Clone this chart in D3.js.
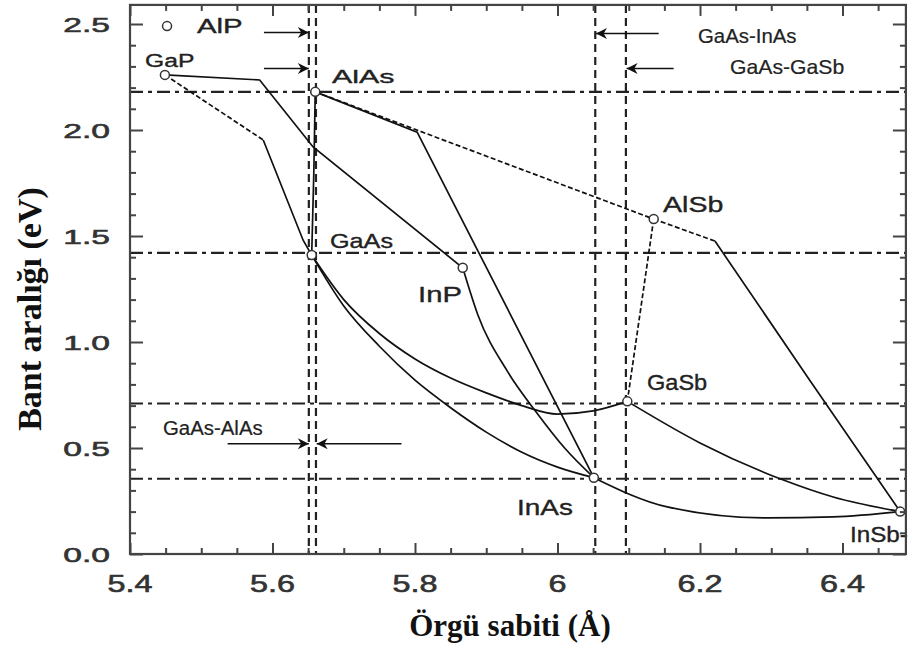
<!DOCTYPE html>
<html><head><meta charset="utf-8">
<script src="https://cdn.jsdelivr.net/npm/d3@7"></script>
<style>
html,body{margin:0;padding:0;background:#fff;}
svg{display:block;}
</style></head>
<body>
<svg id="chart" width="909" height="650"></svg>
<script>
// ---------- data ----------
const xMajorTicks = [5.4, 5.6, 5.8, 6.0, 6.2, 6.4];
const xTickLabels = ["5.4", "5.6", "5.8", "6", "6.2", "6.4"];
const yMajorTicks = [0, 0.5, 1.0, 1.5, 2.0, 2.5];
const yTickLabels = ["0.0", "0.5", "1.0", "1.5", "2.0", "2.5"];

const compoundNames = ["AlP", "GaP", "AlAs", "GaAs", "InP", "AlSb", "GaSb", "InAs", "InSb"];
const compoundA     = [5.452, 5.449, 5.660, 5.655, 5.867, 6.135, 6.098, 6.051, 6.481];
const compoundEg    = [2.49, 2.26, 2.18, 1.41, 1.35, 1.58, 0.72, 0.36, 0.20];

// polylines (straight segments): [lattice constant, band gap]
const curveGaPInP   = [[5.449,2.26],[5.582,2.236],[5.657,1.92],[5.867,1.35]];
const curveGaPGaAsInd = [[5.449,2.26],[5.587,1.953]];
const curveGaPGaAs  = [[5.587,1.953],[5.643,1.48],[5.655,1.41]];
const curveAlAsGaAs = [[5.660,2.18],[5.658,1.80],[5.655,1.41]];
const curveAlAsInAs = [[5.660,2.18],[5.803,1.99],[6.051,0.36]];
const curveAlAsAlSb = [[5.660,2.18],[6.135,1.58]];
const curveAlSbInSbInd = [[6.135,1.58],[6.221,1.476]];
const curveAlSbInSb = [[6.221,1.476],[6.354,0.82],[6.481,0.20]];
const curveAlSbGaSb = [[6.135,1.58],[6.098,0.72]];
// smooth bowed curves
const curveGaAsGaSb = [[5.655,1.41],[5.70,1.20],[5.75,1.04],[5.80,0.92],[5.85,0.83],[5.90,0.76],[5.95,0.70],[6.00,0.66],[6.05,0.675],[6.098,0.72]];
const curveGaAsInAs = [[5.655,1.41],[5.70,1.17],[5.75,0.98],[5.80,0.82],[5.85,0.69],[5.90,0.575],[5.95,0.48],[6.00,0.41],[6.051,0.36]];
const curveInPInAs  = [[5.867,1.35],[5.888,1.13],[5.93,0.86],[5.97,0.67],[6.01,0.50],[6.051,0.36]];
const curveInAsInSb = [[6.051,0.36],[6.154,0.222],[6.294,0.17],[6.387,0.175],[6.481,0.20]];
const curveGaSbInSb = [[6.098,0.72],[6.20,0.524],[6.317,0.349],[6.387,0.269],[6.481,0.20]];

const hLines = [2.18, 1.42, 0.71, 0.355];          // dash-dot reference gaps
const vLines = [5.651, 5.661, 6.053, 6.096];       // dashed reference lattice constants

// annotations: label, arrow start/end in data coords
const arrowLabels = ["GaAs-InAs", "GaAs-GaSb", "GaAs-AlAs"];
const arrowFrom = [[5.588,2.46],[5.588,2.29],[6.142,2.455],[6.163,2.29],[5.537,0.52],[5.781,0.52]];
const arrowTo   = [[5.651,2.46],[5.651,2.29],[6.054,2.455],[6.097,2.29],[5.651,0.52],[5.662,0.52]];

// ---------- scales ----------
const svg = d3.select("#chart");
const x = d3.scaleLinear().domain([5.4, 6.4]).range([130, 842.5]);
const y = d3.scaleLinear().domain([0, 2.5]).range([554, 24]);
const xMax = 6.489, yMax = 2.59;
const X0 = x(5.4), X1 = x(xMax), Y0 = y(0), Y1 = y(yMax);

// ---------- reference lines ----------
const ref = svg.append("g");
hLines.forEach(v => {
  ref.append("line").attr("x1", X0).attr("x2", X1).attr("y1", y(v)).attr("y2", y(v))
    .attr("stroke", "#222").attr("stroke-width", 2.2).attr("stroke-dasharray", "13,5,4,5");
});
vLines.forEach(v => {
  ref.append("line").attr("x1", x(v)).attr("x2", x(v)).attr("y1", Y1).attr("y2", Y0)
    .attr("stroke", "#222").attr("stroke-width", 2.2).attr("stroke-dasharray", "8,5");
});

// ---------- curves ----------
const lineStraight = d3.line().x(d => x(d[0])).y(d => y(d[1]));
const lineSmooth = d3.line().x(d => x(d[0])).y(d => y(d[1])).curve(d3.curveMonotoneX);
const g = svg.append("g").attr("fill", "none").attr("stroke", "#111").attr("stroke-width", 1.7);
[curveGaPInP, curveGaPGaAs, curveAlAsGaAs, curveAlAsInAs, curveAlSbInSb]
  .forEach(c => g.append("path").attr("d", lineStraight(c)));
[curveGaAsGaSb, curveGaAsInAs, curveInPInAs, curveInAsInSb, curveGaSbInSb]
  .forEach(c => g.append("path").attr("d", lineSmooth(c)));
[curveGaPGaAsInd, curveAlAsAlSb, curveAlSbInSbInd, curveAlSbGaSb]
  .forEach(c => g.append("path").attr("d", lineStraight(c)).attr("stroke-dasharray", "5,2.5"));

// ---------- markers ----------
svg.append("g").selectAll("circle").data(compoundNames).join("circle")
  .attr("cx", (d, i) => x(compoundA[i])).attr("cy", (d, i) => y(compoundEg[i]))
  .attr("r", 4.5).attr("fill", "#fff").attr("stroke", "#333").attr("stroke-width", 1.5);

// ---------- text helper ----------
const labelFont = "Liberation Sans, Arial, sans-serif";
function wideText(parent, t, px, py, size, sx, anchor) {
  return parent.append("text").attr("transform", `translate(${px},${py}) scale(${sx},1)`)
    .attr("text-anchor", anchor || "start").attr("font-family", labelFont).attr("font-size", size)
    .attr("fill", "#222").attr("stroke", "#222").attr("stroke-width", 0.35).text(t);
}

// ---------- compound labels ----------
const compoundLabelPos = {
  "AlP":  [197, 33, 21, 1.4],
  "GaP":  [145, 67, 19, 1.3],
  "AlAs": [332, 83, 19, 1.6],
  "GaAs": [330, 248, 20, 1.26],
  "InP":  [418, 302, 22, 1.33],
  "AlSb": [663, 212, 22, 1.3],
  "GaSb": [647, 390, 22, 1.07],
  "InAs": [517, 515, 22, 1.27],
  "InSb": [850, 542, 22, 1.1]
};
const labelTexts = {"InSb": "InSb-"};
compoundNames.forEach(n => {
  const p = compoundLabelPos[n];
  wideText(svg, labelTexts[n] || n, p[0], p[1], p[2], p[3]);
});

// ---------- arrows ----------
const defs = svg.append("defs");
defs.append("marker").attr("id", "ah").attr("viewBox", "0 0 10 10").attr("refX", 10).attr("refY", 5)
  .attr("markerWidth", 13).attr("markerHeight", 11).attr("markerUnits", "userSpaceOnUse").attr("orient", "auto")
  .append("path").attr("d", "M0,0 L10,5 L0,10 L3,5 Z").attr("fill", "#111");
arrowFrom.forEach((f, i) => {
  svg.append("line").attr("x1", x(f[0])).attr("y1", y(f[1]))
    .attr("x2", x(arrowTo[i][0])).attr("y2", y(arrowTo[i][1]))
    .attr("stroke", "#111").attr("stroke-width", 1.6).attr("marker-end", "url(#ah)");
});
const arrowTextPos = [[698, 43, 20, 1.02], [730, 74, 20, 1.06], [163, 435, 20, 1.02]];
arrowLabels.forEach((t, i) => {
  const p = arrowTextPos[i];
  wideText(svg, t, p[0], p[1], p[2], p[3]).attr("stroke-width", 0.2);
});

// ---------- frame & ticks ----------
const frame = svg.append("g");
frame.append("rect").attr("x", X0).attr("y", Y1).attr("width", X1 - X0).attr("height", Y0 - Y1)
  .attr("fill", "none").attr("stroke", "#444").attr("stroke-width", 2.2);

const xMinor = d3.range(5.45, 6.49, 0.05).filter(v => !xMajorTicks.some(m => Math.abs(m - v) < 1e-6));
const yMinor = d3.range(0.1, 2.59, 0.1).filter(v => !yMajorTicks.some(m => Math.abs(m - v) < 1e-6));

function tickAxis(axisFn, scale, vals, size, tr) {
  const a = axisFn(scale).tickValues(vals).tickSizeInner(size).tickSizeOuter(0).tickFormat(() => "");
  const gg = svg.append("g").attr("transform", tr).call(a);
  gg.select(".domain").remove();
  gg.selectAll(".tick line").attr("stroke", "#444").attr("stroke-width", 2);
  gg.selectAll(".tick text").remove();
  return gg;
}
tickAxis(d3.axisBottom, x, xMajorTicks, -11, `translate(0,${Y0})`);
tickAxis(d3.axisBottom, x, xMinor, -6, `translate(0,${Y0})`);
tickAxis(d3.axisTop, x, xMajorTicks, -11, `translate(0,${Y1})`);
tickAxis(d3.axisTop, x, xMinor, -6, `translate(0,${Y1})`);
tickAxis(d3.axisLeft, y, yMajorTicks, -13, `translate(${X0},0)`);
tickAxis(d3.axisLeft, y, yMinor, -6, `translate(${X0},0)`);
tickAxis(d3.axisRight, y, yMajorTicks, -13, `translate(${X1},0)`);
tickAxis(d3.axisRight, y, yMinor, -6, `translate(${X1},0)`);

// tick labels (horizontally stretched like the reference)
const tl = svg.append("g");
xMajorTicks.forEach((v, i) => {
  wideText(tl, xTickLabels[i], x(v), 592, 24, 1.35, "middle").attr("fill", "#333").attr("stroke", "#333").attr("stroke-width", 0.6);
});
yMajorTicks.forEach((v, i) => {
  wideText(tl, yTickLabels[i], 110, y(v) + 8, 21, 1.6, "end").attr("fill", "#333").attr("stroke", "#333").attr("stroke-width", 0.6);
});

// ---------- axis titles ----------
svg.append("text").attr("x", 510).attr("y", 636).attr("text-anchor", "middle")
  .attr("font-family", "Liberation Serif, Times New Roman, serif").attr("font-weight", "bold")
  .attr("font-size", 31).attr("fill", "#111").text("Örgü sabiti (Å)");
svg.append("text").attr("transform", "translate(41,309) rotate(-90)").attr("text-anchor", "middle")
  .attr("font-family", "Liberation Serif, Times New Roman, serif").attr("font-weight", "bold")
  .attr("font-size", 34).attr("fill", "#111").text("Bant aralığı (eV)");
</script>
</body></html>
